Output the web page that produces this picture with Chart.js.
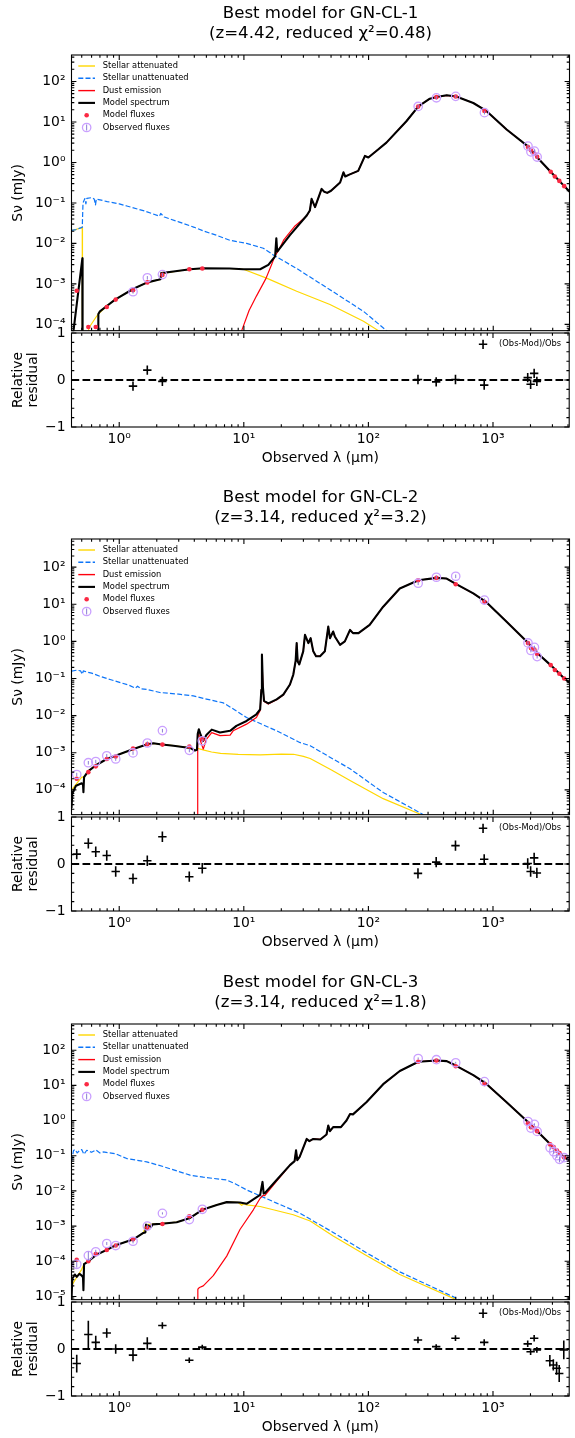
<!DOCTYPE html>
<html>
<head>
<meta charset="utf-8">
<script src="https://cdn.jsdelivr.net/npm/chart.js@4.4.1/dist/chart.umd.min.js"></script>
<style>
  html, body { margin: 0; padding: 0; background: #fff; }
  #page { position: relative; width: 575px; height: 1438px; overflow: hidden; }
  canvas { position: absolute; left: 0; }
</style>
</head>
<body>
<div id="page"></div>
<script>
// wavelength range (um) shared by every panel
const X_MIN = 0.414, X_MAX = 4090;

// ---------- GN-CL-1 ----------
const cl1Attenuated = [[0.414,0.021],[0.45,0.022],[0.505,0.025],[0.507,1e-7],[0.556,1e-7],[0.565,7e-5],[0.575,8.5e-5],[0.65,1.5e-4],[0.68,1.8e-4],[0.79,2.8e-4],[0.926,4.1e-4],[1.3,7.6e-4],[1.68,1.09e-3],[2.14,1.3e-3],[2.17,1.8e-3],[2.72,2.0e-3],[3.7,2.3e-3],[4.72,2.4e-3],[7.7,2.4e-3],[9.9,2.3e-3],[15.2,1.39e-3],[26.5,6.6e-4],[49,3.1e-4],[91,1.2e-4],[120,7e-5],[140,5e-5]];
const cl1Unattenuated = [[0.414,0.021],[0.45,0.022],[0.505,0.025],[0.512,0.1],[0.53,0.128],[0.54,0.095],[0.55,0.13],[0.6,0.135],[0.63,0.125],[0.645,0.09],[0.655,0.125],[0.8,0.108],[1.0,0.095],[1.15,0.084],[1.6,0.063],[2.1,0.047],[2.15,0.055],[2.3,0.045],[3.0,0.034],[4.0,0.025],[4.8,0.02],[6.0,0.016],[7.7,0.012],[10.5,0.01],[14.3,0.0076],[17.2,0.0052],[26.5,0.0024],[49,7.2e-4],[91,2.1e-4],[135,7.6e-5],[160,4.5e-5]];
const cl1Dust = [[9.0,1e-5],[9.6,7e-5],[11.0,2.2e-4],[12.6,5e-4],[15.0,1.35e-3],[16.6,2.9e-3],[17.8,5.0e-3],[19,6.8e-3],[20.8,0.012],[25.7,0.027],[31.9,0.048],[33.8,0.064],[34.9,0.124],[37.2,0.078],[42,0.22],[44,0.19],[46.6,0.176],[50,0.2],[59.1,0.32],[62.9,0.57],[65,0.45],[70,0.5],[82.6,0.62],[93.5,1.45],[99.6,1.33],[116,1.95],[139,3.09],[201,10.4],[251,24.3],[310,37.5],[351,41.3],[423,45.5],[505,42.5],[692,29.4],[873,19.1],[1280,6.5],[1909,2.46],[2255,1.33],[2886,0.59],[3714,0.26],[4100,0.19]];
const cl1Model = [[0.414,1e-6],[0.427,6e-5],[0.506,4.3e-3],[0.508,1e-7],[0.675,1e-7],[0.68,1.8e-4],[0.7,2.1e-4],[0.79,2.8e-4],[0.926,4.1e-4],[1.3,7.6e-4],[1.68,1.09e-3],[2.06,1.26e-3],[2.14,1.3e-3],[2.17,1.85e-3],[2.72,2.03e-3],[3.7,2.3e-3],[4.72,2.44e-3],[7.7,2.4e-3],[9.9,2.3e-3],[13.5,2.3e-3],[15.7,2.95e-3],[17.8,4.8e-3],[18.2,0.0133],[18.5,6.3e-3],[23.4,0.016],[31.9,0.049],[33.8,0.065],[34.9,0.126],[37.2,0.079],[42,0.222],[44,0.19],[46.6,0.177],[50,0.2],[59.1,0.32],[62.9,0.57],[65,0.45],[70,0.5],[82.6,0.62],[93.5,1.45],[99.6,1.33],[116,1.95],[139,3.09],[201,10.4],[251,24.3],[310,37.5],[351,41.3],[423,45.5],[505,42.5],[692,29.4],[873,19.1],[1280,6.5],[1909,2.46],[2255,1.33],[2886,0.59],[3714,0.26],[4100,0.19]];
const cl1FluxWl = [0.456,0.565,0.648,0.794,0.937,1.29,1.68,2.22,3.65,4.64,250,350,500,850,1900,2005,2140,2250,2890,3120,3390,3710];
const cl1ModelFlux = [6.8e-4,8.6e-5,8.6e-5,2.7e-4,4.1e-4,7.0e-4,1.09e-3,1.67e-3,2.3e-3,2.4e-3,24,41,42.5,18.6,2.4,2.0,1.64,1.38,0.59,0.45,0.35,0.26];
const cl1ObsWl = [1.29,1.68,2.22,250,350,500,850,1900,2005,2140,2250];
const cl1ObsFlux = [6.4e-4,1.42e-3,1.7e-3,24.2,39.5,42.9,17,2.53,1.83,1.91,1.36];
const cl1Residual = [-0.13,0.21,-0.03,0.01,-0.04,0.01,-0.11,0.05,-0.09,0.14,-0.03];
const cl1ResidualErr = [0.1,0.1,0.1,0.1,0.1,0.1,0.1,0.1,0.1,0.1,0.1];

// ---------- GN-CL-2 ----------
const cl2Attenuated = [[0.414,9.8e-5],[0.45,1.4e-4],[0.5,2.2e-4],[0.522,2.2e-4],[0.565,3.2e-4],[0.65,4.6e-4],[0.794,6.8e-4],[0.943,8.4e-4],[1.3,1.26e-3],[1.68,1.7e-3],[1.88,1.8e-3],[2.12,1.7e-3],[2.72,1.55e-3],[3.7,1.35e-3],[4.05,1.15e-3],[4.3,1.3e-3],[4.7,1.2e-3],[5.5,1.05e-3],[6.5,9.6e-4],[9,9.0e-4],[13.5,8.8e-4],[20,9.2e-4],[25,9.1e-4],[30,8e-4],[34,7e-4],[50,3.5e-4],[71,1.8e-4],[131,5.8e-5],[260,2.2e-5]];
const cl2Unattenuated = [[0.414,0.158],[0.456,0.168],[0.49,0.16],[0.505,0.13],[0.515,0.16],[0.55,0.15],[0.6,0.14],[0.7,0.115],[0.844,0.094],[1.2,0.066],[1.35,0.055],[1.4,0.062],[1.5,0.053],[1.66,0.051],[2.12,0.042],[3.0,0.038],[3.93,0.034],[5.0,0.028],[6.85,0.022],[8.0,0.016],[10.5,0.0089],[18.3,0.0039],[28,0.0019],[34,0.00155],[71,3.7e-4],[131,8.5e-5],[275,2.15e-5]];
const cl2Dust = [[4.24,1e-7],[4.26,2.9e-3],[4.32,3.3e-3],[4.5,2.0e-3],[4.72,1.26e-3],[5.0,2.3e-3],[5.52,3.5e-3],[6.43,2.9e-3],[7.75,3.0e-3],[8.2,3.9e-3],[10.5,5.9e-3],[12.6,8.9e-3],[13.5,0.0138],[13.8,0.05],[13.95,0.44],[14.2,0.06],[14.5,0.024],[15.7,0.0205],[18.3,0.0268],[20.7,0.036],[23.4,0.068],[24.9,0.127],[26.0,0.3],[26.5,0.9],[27.0,0.29],[27.8,0.24],[29.9,0.54],[30.9,1.5],[32.9,0.9],[34.3,1.22],[36,0.54],[37.9,0.4],[40.8,0.4],[44.6,0.54],[47.5,2.5],[49,1.22],[52,1.85],[53.6,1.36],[59,0.81],[64.5,1.0],[71,2.04],[75,1.67],[83,1.67],[102,2.78],[131,8.6],[178,26.6],[251,44.5],[351,51.5],[423,49.4],[505,34.8],[692,19.6],[873,11.7],[1280,3.4],[1909,0.9],[2255,0.49],[2886,0.23],[3714,0.1],[4100,0.077]];
const cl2Model = [[0.414,3.2e-5],[0.42,8e-5],[0.45,1.3e-4],[0.5,1.5e-4],[0.512,1.4e-4],[0.516,8.6e-5],[0.522,2.2e-4],[0.565,3.2e-4],[0.65,4.6e-4],[0.794,6.8e-4],[0.943,8.4e-4],[1.3,1.26e-3],[1.68,1.7e-3],[1.88,1.8e-3],[2.12,1.7e-3],[2.72,1.55e-3],[3.7,1.35e-3],[4.05,1.15e-3],[4.2,1.2e-3],[4.26,3.2e-3],[4.35,4.3e-3],[4.5,3.0e-3],[4.72,2.1e-3],[5.0,3.0e-3],[5.52,4.2e-3],[6.43,3.5e-3],[7.75,3.9e-3],[8.7,5.3e-3],[10.5,7.2e-3],[12.6,0.0109],[13.5,0.0148],[13.8,0.05],[13.95,0.44],[14.2,0.06],[14.5,0.025],[15.7,0.0214],[18.3,0.0275],[20.7,0.037],[23.4,0.069],[24.9,0.128],[26.0,0.3],[26.5,0.9],[27.0,0.29],[27.8,0.24],[29.9,0.54],[30.9,1.5],[32.9,0.9],[34.3,1.22],[36,0.54],[37.9,0.4],[40.8,0.4],[44.6,0.54],[47.5,2.5],[49,1.22],[52,1.85],[53.6,1.36],[59,0.81],[64.5,1.0],[71,2.04],[75,1.67],[83,1.67],[102,2.78],[131,8.6],[178,26.6],[251,44.5],[351,51.5],[423,49.4],[505,34.8],[692,19.6],[873,11.7],[1280,3.4],[1909,0.9],[2255,0.49],[2886,0.23],[3714,0.1],[4100,0.077]];
const cl2FluxWl = [0.456,0.565,0.648,0.794,0.937,1.29,1.68,2.22,3.65,4.64,250,350,500,850,1900,2005,2140,2250,2890,3120,3390,3710];
const cl2ModelFlux = [2.0e-4,3.0e-4,4.3e-4,6.8e-4,7.9e-4,1.3e-3,1.7e-3,1.66e-3,1.47e-3,2.3e-3,44.5,51.5,34.8,11.7,0.9,0.66,0.6,0.46,0.23,0.17,0.135,0.1];
const cl2ObsWl = [0.456,0.565,0.648,0.794,0.937,1.29,1.68,2.22,3.65,4.64,250,350,500,850,1900,2005,2140,2250];
const cl2ObsFlux = [2.6e-4,5.4e-4,5.8e-4,8.3e-4,6.8e-4,9.9e-4,1.83e-3,3.95e-3,1.16e-3,2.1e-3,37,53.6,57,13,0.91,0.57,0.69,0.39];
const cl2Residual = [0.21,0.44,0.26,0.18,-0.16,-0.31,0.07,0.58,-0.27,-0.09,-0.2,0.04,0.39,0.1,0.01,-0.16,0.13,-0.19];
const cl2ResidualErr = [0.11,0.11,0.11,0.11,0.11,0.11,0.11,0.11,0.11,0.11,0.11,0.11,0.11,0.11,0.11,0.11,0.11,0.11];

// ---------- GN-CL-3 ----------
const cl3Attenuated = [[0.414,2e-5],[0.456,3.5e-5],[0.5,5.9e-5],[0.522,8.3e-5],[0.565,1.0e-4],[0.65,1.5e-4],[0.794,2.1e-4],[0.926,2.8e-4],[1.3,4.2e-4],[1.56,6.4e-4],[1.64,1.1e-3],[2.19,1.17e-3],[2.89,1.29e-3],[3.7,1.7e-3],[4.64,2.9e-3],[6.05,4e-3],[7.28,4.8e-3],[9.0,4.7e-3],[9.6,3.9e-3],[10.0,4.3e-3],[10.5,4.0e-3],[13.5,3.6e-3],[24.9,2.1e-3],[34,1.4e-3],[52,5.2e-4],[96,1.45e-4],[178,4.2e-5],[509,8e-6]];
const cl3Unattenuated = [[0.414,0.07],[0.43,0.14],[0.442,0.15],[0.46,0.12],[0.48,0.14],[0.5,0.15],[0.52,0.11],[0.549,0.143],[0.6,0.125],[0.65,0.145],[0.7,0.12],[0.746,0.128],[0.926,0.115],[1.15,0.083],[1.66,0.067],[2.26,0.049],[3.7,0.028],[4.72,0.0245],[7.28,0.0204],[8.5,0.016],[10.5,0.0107],[18.3,4.5e-3],[28,2.35e-3],[52,6.6e-4],[96,1.75e-4],[178,5e-5],[540,8e-6]];
const cl3Dust = [[4.25,1e-7],[4.27,1.6e-5],[4.4,1.8e-5],[4.72,2e-5],[5.68,3.9e-5],[7.28,1.4e-4],[9.3,8e-4],[11.9,2.9e-3],[13.5,6.2e-3],[14.3,7.6e-3],[14.7,7.3e-3],[18.3,0.019],[23.4,0.053],[25.5,0.07],[26.2,0.143],[26.8,0.075],[28,0.093],[31.9,0.3],[33.5,0.26],[36,0.3],[41,0.29],[46,0.4],[47.5,0.72],[49,0.5],[52,0.65],[60,0.65],[66.5,1.0],[71,1.54],[75,1.5],[96,3.3],[131,10.8],[178,25.6],[251,47],[351,51],[423,49],[505,36],[692,19.5],[873,11.3],[1280,3.3],[1909,0.9],[2255,0.5],[2886,0.21],[3714,0.089],[4100,0.075]];
const cl3Model = [[0.414,8e-6],[0.42,3.2e-5],[0.44,4.2e-5],[0.456,3.6e-5],[0.48,4.4e-5],[0.5,3.9e-5],[0.512,3.5e-5],[0.516,1.5e-5],[0.522,8.3e-5],[0.565,1.0e-4],[0.65,1.5e-4],[0.794,2.1e-4],[0.926,2.8e-4],[1.3,4.2e-4],[1.56,6.4e-4],[1.62,6.6e-4],[1.64,1.1e-3],[1.8,9.5e-4],[1.85,1.12e-3],[2.19,1.17e-3],[2.89,1.29e-3],[3.7,1.7e-3],[4.64,2.9e-3],[6.05,4e-3],[7.28,4.8e-3],[9.3,4.7e-3],[10.5,4.3e-3],[13.5,7.7e-3],[14.1,0.018],[14.4,8.5e-3],[14.7,8.6e-3],[18.3,0.0204],[23.4,0.054],[25.5,0.07],[26.2,0.143],[26.8,0.075],[28,0.093],[31.9,0.3],[33.5,0.26],[36,0.3],[41,0.29],[46,0.4],[47.5,0.72],[49,0.5],[52,0.65],[60,0.65],[66.5,1.0],[71,1.54],[75,1.5],[96,3.3],[131,10.8],[178,25.6],[251,47],[351,51],[423,49],[505,36],[692,19.5],[873,11.3],[1280,3.3],[1909,0.9],[2255,0.5],[2886,0.21],[3714,0.089],[4100,0.075]];
const cl3FluxWl = [0.456,0.565,0.648,0.794,0.937,1.29,1.68,2.22,3.65,4.64,250,350,500,850,1900,2005,2140,2250,2860,3050,3240,3400,3700];
const cl3ModelFlux = [1.1e-4,1.0e-4,1.6e-4,2.1e-4,2.8e-4,4.2e-4,8.9e-4,1.15e-3,1.9e-3,2.9e-3,47,51,35,11,0.84,0.65,0.6,0.5,0.21,0.175,0.14,0.12,0.09];
const cl3ObsWl = [0.456,0.565,0.648,0.794,0.937,1.29,1.68,2.22,3.65,4.64,250,350,500,850,1900,2005,2140,2250,2860,3050,3240,3400,3700];
const cl3ObsFlux = [8.2e-5,1.45e-4,1.86e-4,3.2e-4,2.8e-4,3.7e-4,1.0e-3,2.3e-3,1.53e-3,3.0e-3,58,53.7,44,12.8,0.94,0.61,0.78,0.49,0.168,0.13,0.1,0.079,0.088];
const cl3Residual = [-0.31,0.31,0.14,0.34,0.0,-0.13,0.12,0.5,-0.24,0.04,0.19,0.05,0.23,0.14,0.11,-0.06,0.23,-0.02,-0.25,-0.34,-0.41,-0.52,-0.02];
const cl3ResidualErr = [0.19,0.29,0.14,0.1,0.1,0.13,0.13,0.07,0.06,0.05,0.07,0.05,0.06,0.07,0.07,0.07,0.07,0.06,0.12,0.12,0.14,0.18,0.2];

const FONT = '"DejaVu Sans", "Liberation Sans", sans-serif';
const GOLD = '#ffd700', SKY = '#0d75f8', RED = '#ff000d';
const STRAWBERRY = '#fb2943', LILAC = '#caa0ff', LILAC_BAR = '#8c7bd6';

Chart.defaults.font.family = FONT;
Chart.defaults.color = '#000';

const SUP = { '-': '\u207b', '0': '\u2070', '1': '\u00b9', '2': '\u00b2', '3': '\u00b3', '4': '\u2074', '5': '\u2075', '6': '\u2076', '7': '\u2077', '8': '\u2078', '9': '\u2079' };
function powLabel(v) {
  const e = Math.round(Math.log10(v));
  return '10' + String(e).split('').map(c => SUP[c]).join('');
}
function decadeTicks(lo, hi) {
  const t = [];
  for (let e = Math.ceil(Math.log10(lo) - 1e-9); e <= Math.floor(Math.log10(hi) + 1e-9); e++) t.push({ value: Math.pow(10, e) });
  return t;
}
const pts = pairs => pairs.map(([x, y]) => ({ x, y }));
const zip = (xs, ys) => xs.map((x, i) => ({ x, y: ys[i] }));

// box round the axes, inward ticks on all four sides (matplotlib look)
const frameTicks = {
  id: 'frameTicks',
  afterDatasetsDraw(chart) {
    const { ctx, chartArea: a, scales: { x, y } } = chart;
    ctx.save();
    ctx.strokeStyle = '#000';
    ctx.lineWidth = 1.1;
    ctx.beginPath();
    for (let e = -1; e <= 4; e++) {
      for (let m = 1; m <= 9; m++) {
        const v = m * Math.pow(10, e);
        if (v < x.min || v > x.max) continue;
        const px = x.getPixelForValue(v);
        const len = m === 1 ? 4.9 : 2.8;
        ctx.moveTo(px, a.top); ctx.lineTo(px, a.top + len);
        ctx.moveTo(px, a.bottom); ctx.lineTo(px, a.bottom - len);
      }
    }
    const yt = [];
    if (y.type === 'logarithmic') {
      for (let e = -6; e <= 3; e++) for (let m = 1; m <= 9; m++) yt.push([m * Math.pow(10, e), m === 1]);
    } else {
      for (let k = -5; k <= 5; k++) yt.push([k / 5, k % 5 === 0]);
    }
    yt.forEach(([v, major]) => {
      if (v < y.min || v > y.max) return;
      const py = y.getPixelForValue(v);
      const len = major ? 4.9 : 2.8;
      ctx.moveTo(a.left, py); ctx.lineTo(a.left + len, py);
      ctx.moveTo(a.right, py); ctx.lineTo(a.right - len, py);
    });
    ctx.stroke();
    ctx.strokeRect(a.left, a.top, a.right - a.left, a.bottom - a.top);
    ctx.restore();
  }
};

// vertical error bars, read from dataset.errors
const errorBars = {
  id: 'errorBars',
  afterDatasetsDraw(chart) {
    const { ctx, scales: { y } } = chart;
    ctx.save();
    chart.data.datasets.forEach((ds, i) => {
      if (!ds.errors) return;
      const meta = chart.getDatasetMeta(i);
      ctx.strokeStyle = ds.errorColor;
      ctx.lineWidth = ds.errorWidth;
      ctx.beginPath();
      meta.data.forEach((pt, j) => {
        const v = ds.data[j].y, e = ds.errors[j];
        const lo = ds.relativeErrors ? v * (1 - e) : v - e;
        const hi = ds.relativeErrors ? v * (1 + e) : v + e;
        ctx.moveTo(pt.x, y.getPixelForValue(lo));
        ctx.lineTo(pt.x, y.getPixelForValue(hi));
      });
      ctx.stroke();
    });
    ctx.restore();
  }
};

// legend drawn inside the axes, no frame
const sedLegend = {
  id: 'sedLegend',
  afterDraw(chart, args, opts) {
    if (!opts.items) return;
    const { ctx, chartArea: a } = chart;
    ctx.save();
    ctx.font = '8.3px ' + FONT;
    ctx.textBaseline = 'middle';
    opts.items.forEach((it, i) => {
      const y = a.top + opts.top + i * 12.3;
      const x0 = opts.fromRight ? a.right - opts.fromRight : a.left + 6.8;
      const xm = x0 + 8.35;
      ctx.save();
      ctx.beginPath();
      if (it.kind === 'line') {
        ctx.strokeStyle = it.color; ctx.lineWidth = it.width;
        ctx.setLineDash(it.dash || []);
        ctx.moveTo(x0, y); ctx.lineTo(x0 + 16.7, y); ctx.stroke();
      } else if (it.kind === 'dot') {
        ctx.fillStyle = it.color;
        ctx.arc(xm, y, 2.3, 0, Math.PI * 2); ctx.fill();
      } else if (it.kind === 'obs') {
        ctx.strokeStyle = it.color; ctx.lineWidth = 1.3;
        ctx.arc(xm, y, 4.2, 0, Math.PI * 2); ctx.stroke();
        ctx.beginPath(); ctx.strokeStyle = LILAC_BAR; ctx.lineWidth = 1;
        ctx.moveTo(xm, y - 3); ctx.lineTo(xm, y + 3); ctx.stroke();
      } else if (it.kind === 'plus') {
        ctx.strokeStyle = '#000'; ctx.lineWidth = 1.6;
        ctx.moveTo(xm - 4.2, y); ctx.lineTo(xm + 4.2, y);
        ctx.moveTo(xm, y - 4.6); ctx.lineTo(xm, y + 4.6); ctx.stroke();
      }
      ctx.restore();
      ctx.fillStyle = '#000';
      ctx.fillText(it.label, x0 + 24.4, y);
    });
    ctx.restore();
  }
};

const mainLegend = [
  { label: 'Stellar attenuated', kind: 'line', color: GOLD, width: 1.4 },
  { label: 'Stellar unattenuated', kind: 'line', color: SKY, width: 1.4, dash: [5, 2.2] },
  { label: 'Dust emission', kind: 'line', color: RED, width: 1.4 },
  { label: 'Model spectrum', kind: 'line', color: '#000', width: 2.1 },
  { label: 'Model fluxes', kind: 'dot', color: STRAWBERRY },
  { label: 'Observed fluxes', kind: 'obs', color: LILAC }
];

const page = document.getElementById('page');
function addCanvas(top, height) {
  const c = document.createElement('canvas');
  c.width = 575; c.height = height;
  c.style.top = top + 'px';
  page.appendChild(c);
  return c;
}

const tickFont = { family: FONT, size: 13.9 };

function sedPanel(top, title, yMin, yMax, s) {
  const curve = (label, data, color, width, extra) => Object.assign({
    label, data: pts(data), showLine: true, borderColor: color, borderWidth: width,
    pointRadius: 0, borderJoinStyle: 'round'
  }, extra);

  new Chart(addCanvas(top, 345), {
    type: 'scatter',
    data: {
      datasets: [
        curve('Stellar attenuated', s.attenuated, GOLD, 1.2, { order: 6 }),
        curve('Stellar unattenuated', s.unattenuated, SKY, 1.2, { order: 5, borderDash: [5, 2.2] }),
        curve('Dust emission', s.dust, RED, 1.2, { order: 4 }),
        curve('Model spectrum', s.model, '#000', 2.1, { order: 3 }),
        {
          label: 'Model fluxes', data: zip(s.fluxWl, s.modelFlux), order: 2,
          pointRadius: 2.3, pointBackgroundColor: STRAWBERRY, pointBorderWidth: 0
        },
        {
          label: 'Observed fluxes', data: zip(s.obsWl, s.obsFlux), order: 1,
          pointRadius: 4.2, pointBackgroundColor: 'rgba(0,0,0,0)', pointBorderColor: LILAC, pointBorderWidth: 1.3,
          errors: s.resErr, relativeErrors: true, errorColor: LILAC_BAR, errorWidth: 1
        }
      ]
    },
    options: {
      responsive: false, animation: false, devicePixelRatio: 1,
      layout: { padding: { top: 0, right: 5.5, bottom: 12, left: 0 } },
      plugins: {
        legend: { display: false },
        tooltip: { enabled: false },
        title: {
          display: true, text: title, fullSize: false, color: '#000',
          font: { family: FONT, size: 16.6, weight: 'normal', lineHeight: 1.17 },
          padding: { top: 4.3, bottom: 11.86 }
        },
        sedLegend: { top: 11, items: mainLegend }
      },
      scales: {
        x: { type: 'logarithmic', min: X_MIN, max: X_MAX, display: false },
        y: {
          type: 'logarithmic', min: yMin, max: yMax,
          grid: { display: false, drawTicks: false }, border: { display: false },
          ticks: { font: tickFont, color: '#000', padding: 6, autoSkip: false, callback: powLabel },
          afterBuildTicks: sc => { sc.ticks = decadeTicks(yMin, yMax); },
          afterFit: sc => { sc.width = 71.5; },
          title: { display: true, text: 'S\u03bd (mJy)', color: '#000', font: { family: FONT, size: 13.9 }, padding: { top: 10, bottom: 0 } }
        }
      }
    },
    plugins: [frameTicks, errorBars, sedLegend]
  });

  new Chart(addCanvas(top + 265, 219), {
    type: 'scatter',
    data: {
      datasets: [
        {
          label: 'zero', data: [{ x: X_MIN, y: 0 }, { x: X_MAX, y: 0 }], showLine: true, order: 1,
          borderColor: '#000', borderWidth: 2.1, borderDash: [7.7, 3.3], pointRadius: 0
        },
        {
          label: '(Obs-Mod)/Obs', data: zip(s.obsWl, s.residual), order: 2,
          pointStyle: 'line', pointRadius: 4.2, pointBorderColor: '#000', pointBorderWidth: 1.6,
          errors: s.resErr, relativeErrors: false, errorColor: '#000', errorWidth: 1.6
        }
      ]
    },
    options: {
      responsive: false, animation: false, devicePixelRatio: 1,
      layout: { padding: { top: 68, right: 5.5, bottom: 0, left: 0 } },
      plugins: {
        legend: { display: false },
        tooltip: { enabled: false },
        sedLegend: { top: 11.3, fromRight: 94.5, items: [{ label: '(Obs-Mod)/Obs', kind: 'plus' }] }
      },
      scales: {
        x: {
          type: 'logarithmic', min: X_MIN, max: X_MAX,
          grid: { display: false, drawTicks: false }, border: { display: false },
          ticks: { font: tickFont, color: '#000', padding: 4.5, autoSkip: false, maxRotation: 0, callback: powLabel },
          afterBuildTicks: sc => { sc.ticks = [1, 10, 100, 1000].map(v => ({ value: v })); },
          afterFit: sc => { sc.height = 57; },
          title: { display: true, text: 'Observed \u03bb (\u03bcm)', color: '#000', font: { family: FONT, size: 13.9 }, padding: { top: 0, bottom: 17.7 } }
        },
        y: {
          type: 'linear', min: -1, max: 1,
          grid: { display: false, drawTicks: false }, border: { display: false },
          ticks: { font: tickFont, color: '#000', padding: 6, autoSkip: false, callback: v => (v < 0 ? '\u22121' : String(v)) },
          afterBuildTicks: sc => { sc.ticks = [-1, 0, 1].map(v => ({ value: v })); },
          afterFit: sc => { sc.width = 71.5; },
          title: { display: true, text: ['Relative', 'residual'], color: '#000', font: { family: FONT, size: 13.9, lineHeight: 1.1 }, padding: { top: 10.7, bottom: 0 } }
        }
      }
    },
    plugins: [frameTicks, errorBars, sedLegend]
  });
}

sedPanel(0, ['Best model for GN-CL-1', '(z=4.42, reduced \u03c7\u00b2=0.48)'], 7.0e-5, 451, {
  attenuated: cl1Attenuated, unattenuated: cl1Unattenuated, dust: cl1Dust, model: cl1Model,
  fluxWl: cl1FluxWl, modelFlux: cl1ModelFlux, obsWl: cl1ObsWl, obsFlux: cl1ObsFlux,
  residual: cl1Residual, resErr: cl1ResidualErr
});
sedPanel(484.3, ['Best model for GN-CL-2', '(z=3.14, reduced \u03c7\u00b2=3.2)'], 2.15e-5, 574, {
  attenuated: cl2Attenuated, unattenuated: cl2Unattenuated, dust: cl2Dust, model: cl2Model,
  fluxWl: cl2FluxWl, modelFlux: cl2ModelFlux, obsWl: cl2ObsWl, obsFlux: cl2ObsFlux,
  residual: cl2Residual, resErr: cl2ResidualErr
});
sedPanel(969.3, ['Best model for GN-CL-3', '(z=3.14, reduced \u03c7\u00b2=1.8)'], 8.1e-6, 555, {
  attenuated: cl3Attenuated, unattenuated: cl3Unattenuated, dust: cl3Dust, model: cl3Model,
  fluxWl: cl3FluxWl, modelFlux: cl3ModelFlux, obsWl: cl3ObsWl, obsFlux: cl3ObsFlux,
  residual: cl3Residual, resErr: cl3ResidualErr
});
</script>
</body>
</html>
